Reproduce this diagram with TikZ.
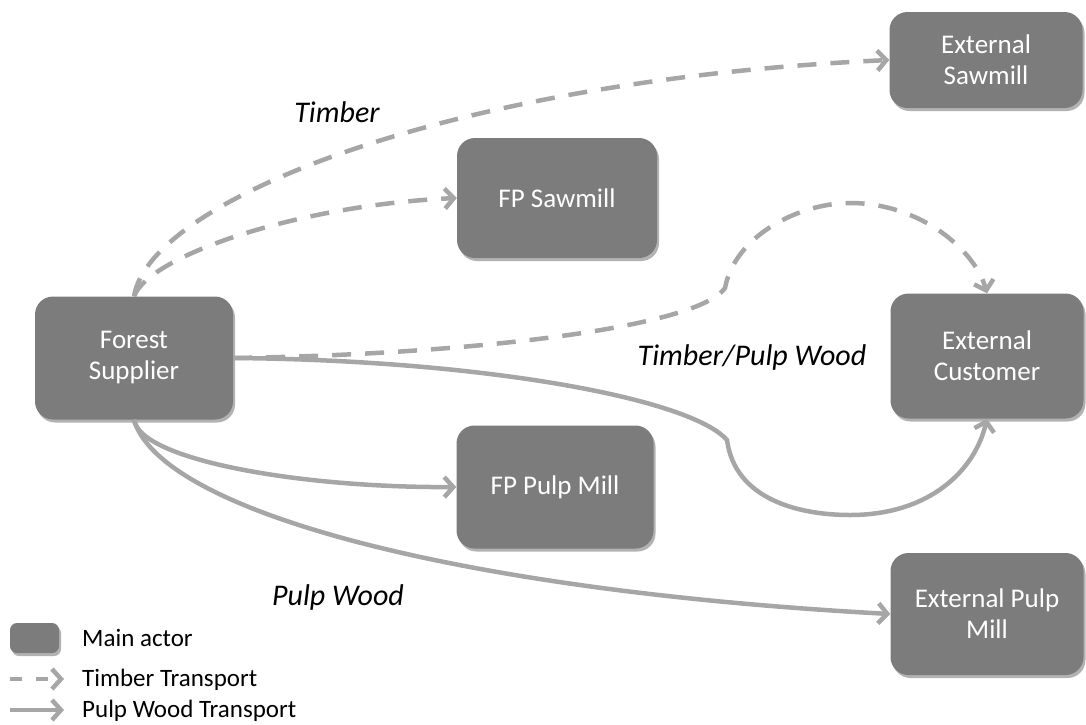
\documentclass[tikz,border=0pt]{standalone}
\usepackage{fontspec}
\setmainfont{Carlito}
\usetikzlibrary{arrows.meta,shadows}
\definecolor{actorgray}{RGB}{124,124,124}
\definecolor{flowgray}{RGB}{166,166,166}

\begin{document}
\begin{tikzpicture}[x=1pt,y=-1pt,>={Straight Barb[length=9pt,width=20pt]},line join=round,
  actor/.style={rounded corners=18pt,fill=actorgray,text=white,align=center,inner sep=0pt,
    font=\fontsize{27}{31}\selectfont,
    drop shadow={shadow xshift=2pt,shadow yshift=-3pt,opacity=.3,fill=black}},
  timber/.style={flowgray,line width=4.5pt,dash pattern=on 19pt off 14pt},
  pulp/.style={flowgray,line width=4.5pt},
  flowlabel/.style={font=\fontsize{30}{34}\selectfont\itshape},
  legendtext/.style={anchor=west,inner sep=0pt,font=\fontsize{25}{28}\selectfont}]
  \useasboundingbox (0,0) rectangle (1086,724);
%%
  % Node: Forest Supplier
  \node[actor,minimum width=198pt,minimum height=123pt] (fs) at (134,358) {Forest\\Supplier};
  % Node: FP Sawmill
  \node[actor,minimum width=200pt,minimum height=120pt] (fpsaw) at (557,198) {FP Sawmill};
  % Node: External Sawmill
  \node[actor,minimum width=193pt,minimum height=96pt] (extsaw) at (986,60) {External\\Sawmill};
  % Node: External Customer
  \node[actor,minimum width=193pt,minimum height=125pt] (extcust) at (987,356) {External\\Customer};
  % Node: FP Pulp Mill
  \node[actor,minimum width=197pt,minimum height=123pt] (fppulp) at (555,487) {FP Pulp Mill};
  % Node: External Pulp Mill
  \node[actor,minimum width=193pt,minimum height=122pt] (extpulp) at (987,614) {External Pulp\\Mill};
%
  % Edge: Forest Supplier -> External Sawmill
  \draw [timber,->] (fs.north) .. controls (150,200) and (450,80) .. (extsaw.west);
  % Edge: Forest Supplier -> FP Sawmill
  \draw [timber,->] (fs.north) .. controls (150,255) and (300,205) .. (fpsaw.west);
  % Edge: Forest Supplier -> External Customer (timber)
  \draw [timber,->] (fs.east) .. controls (450,355) and (695,330) .. (725,288)
    .. controls (735,235) and (800,203) .. (850,203)
    .. controls (920,203) and (975,250) .. (extcust.north);
  % Edge: Forest Supplier -> External Customer (pulp wood)
  \draw [pulp,->] (fs.east) .. controls (480,360) and (690,398) .. (727,440)
    .. controls (735,500) and (800,515) .. (850,515)
    .. controls (930,515) and (975,470) .. (extcust.south);
  % Edge: Forest Supplier -> FP Pulp Mill
  \draw [pulp,->] (fs.south) .. controls (140,460) and (300,488) .. (fppulp.west);
  % Edge: Forest Supplier -> External Pulp Mill
  \draw [pulp,->] (fs.south) .. controls (160,510) and (450,590) .. (extpulp.west);
%
  % Labels
  \node[flowlabel] (ltimber) at (337,112) {Timber};
  \node[flowlabel] (lboth) at (752,357) {Timber/Pulp Wood};
  \node[flowlabel] (lpulp) at (338,597) {Pulp Wood};
%
  % Legend
  \node[actor,rounded corners=7pt,minimum width=49pt,minimum height=30pt] (keyactor) at (34.5,638) {};
  \node[legendtext] (keyactortext) at (82,638) {Main actor};
  \coordinate (keytimberA) at (10,679);
  \coordinate (keytimberB) at (64,679);
  \draw [timber,dash pattern=on 12pt off 14pt,->] (keytimberA) -- (keytimberB);
  \node[legendtext] (keytimbertext) at (82,680) {Timber Transport};
  \coordinate (keypulpA) at (10,710);
  \coordinate (keypulpB) at (64,710);
  \draw [pulp,->] (keypulpA) -- (keypulpB);
  \node[legendtext] (keypulptext) at (82,711) {Pulp Wood Transport};
\end{tikzpicture}
\end{document}
